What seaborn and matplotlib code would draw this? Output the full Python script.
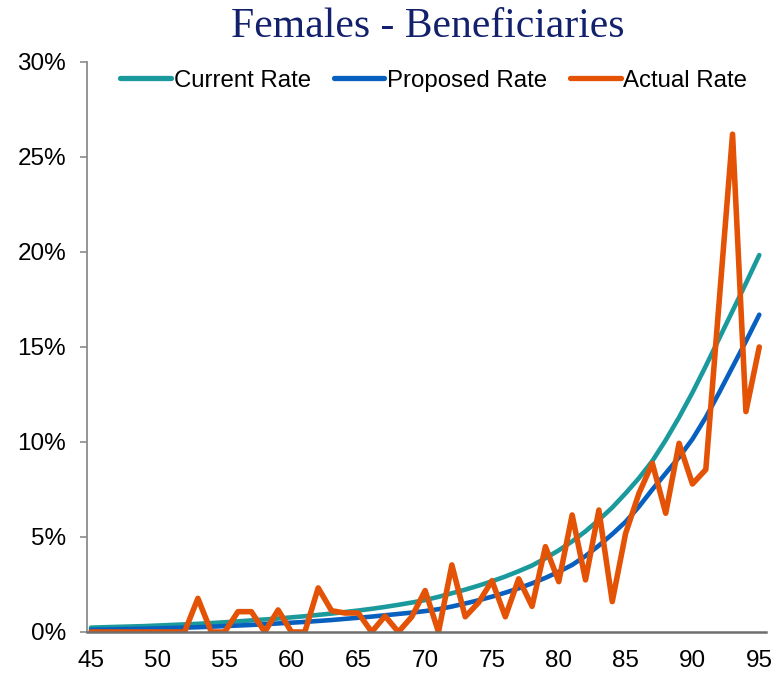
import pandas as pd
import matplotlib
matplotlib.use("Agg")
import matplotlib.pyplot as plt
from matplotlib.ticker import PercentFormatter
import seaborn as sns

# ages 45..95
ages = list(range(45, 96))

# rates in percent
current_rate = [0.23, 0.25, 0.27, 0.29, 0.31, 0.34, 0.37, 0.40, 0.43, 0.47,
                0.51, 0.56, 0.61, 0.66, 0.71, 0.77, 0.83, 0.90, 0.97, 1.05,
                1.13, 1.22, 1.32, 1.43, 1.55, 1.68, 1.85, 2.04, 2.23, 2.44,
                2.67, 2.92, 3.20, 3.50, 3.88, 4.30, 4.77, 5.30, 5.90, 6.55,
                7.30, 8.10, 9.00, 10.10, 11.30, 12.60, 14.00, 15.45, 16.90, 18.35,
                19.84]
proposed_rate = [0.12, 0.13, 0.14, 0.16, 0.17, 0.19, 0.21, 0.23, 0.25, 0.28,
                 0.31, 0.34, 0.37, 0.41, 0.45, 0.49, 0.53, 0.58, 0.63, 0.69,
                 0.75, 0.81, 0.88, 0.95, 1.02, 1.10, 1.20, 1.34, 1.50, 1.67,
                 1.86, 2.07, 2.30, 2.56, 2.85, 3.17, 3.53, 4.00, 4.55, 5.15,
                 5.80, 6.60, 7.50, 8.35, 9.20, 10.15, 11.30, 12.60, 13.95, 15.30,
                 16.70]
actual_rate = [0, 0, 0, 0, 0, 0, 0, 0, 1.77, 0,
               0, 1.07, 1.07, 0, 1.16, 0, 0, 2.32, 1.12, 1.0,
               1.0, 0, 0.84, 0, 0.8, 2.18, 0, 3.53, 0.8, 1.55,
               2.7, 0.8, 2.8, 1.35, 4.49, 2.65, 6.16, 2.74, 6.42, 1.6,
               5.19, 7.3, 8.88, 6.25, 9.93, 7.79, 8.55, 17.4, 26.2, 11.6,
               15.0]

series_names = ["Current Rate", "Proposed Rate", "Actual Rate"]
series_colors = ["#1B9A9E", "#0760BF", "#E35205"]

df = pd.concat([
    pd.DataFrame({"Age": ages, "Rate": current_rate, "Series": series_names[0]}),
    pd.DataFrame({"Age": ages, "Rate": proposed_rate, "Series": series_names[1]}),
    pd.DataFrame({"Age": ages, "Rate": actual_rate, "Series": series_names[2]}),
])

sns.set_theme(style="white")
plt.rcParams["font.family"] = ["Liberation Sans", "DejaVu Sans"]

fig = plt.figure(figsize=(7.8, 6.76), dpi=100)
ax = fig.add_axes([0.1115, 0.0651, 0.8705, 0.8432])

sns.lineplot(data=df, x="Age", y="Rate", hue="Series", hue_order=series_names,
             palette=series_colors, linewidth=3.2, ax=ax, legend=True)
for line, lw in zip(ax.lines, [3.3, 3.3, 4.0]):
    line.set_linewidth(lw)
    line.set_solid_capstyle("round")
    line.set_solid_joinstyle("round")

ax.set_xlim(44.7, 95.5)
ax.set_ylim(0, 30)
ax.set_xticks(range(45, 96, 5))
ax.set_yticks(range(0, 31, 5))
ax.yaxis.set_major_formatter(PercentFormatter(100, decimals=0))
ax.set_xlabel("")
ax.set_ylabel("")

for s in ["top", "right"]:
    ax.spines[s].set_visible(False)
ax.spines["left"].set_color("#8c8c8c")
ax.spines["left"].set_linewidth(1.3)
ax.spines["bottom"].set_color("#6e6e6e")
ax.spines["bottom"].set_linewidth(1.8)
ax.tick_params(axis="y", left=True, length=5, width=1.2, color="#8c8c8c",
               labelsize=17.5, labelcolor="black", pad=10)
ax.tick_params(axis="x", bottom=False, labelsize=17.5, labelcolor="black", pad=7)

handles, labels = ax.get_legend_handles_labels()
leg = ax.legend(handles, labels, loc="upper center", bbox_to_anchor=(0.511, 1.003),
                ncol=3, frameon=False, fontsize=17.3, handlelength=2.1,
                handletextpad=0.12, columnspacing=0.95, borderaxespad=0,
                labelcolor="black")
for h in leg.get_lines():
    h.set_linewidth(3.8)

fig.text(0.549, 0.960, "Females - Beneficiaries", ha="center", va="center",
         fontsize=30, color="#13216D", family=["Liberation Serif", "DejaVu Serif"])

fig.savefig("out.png", dpi=100)
